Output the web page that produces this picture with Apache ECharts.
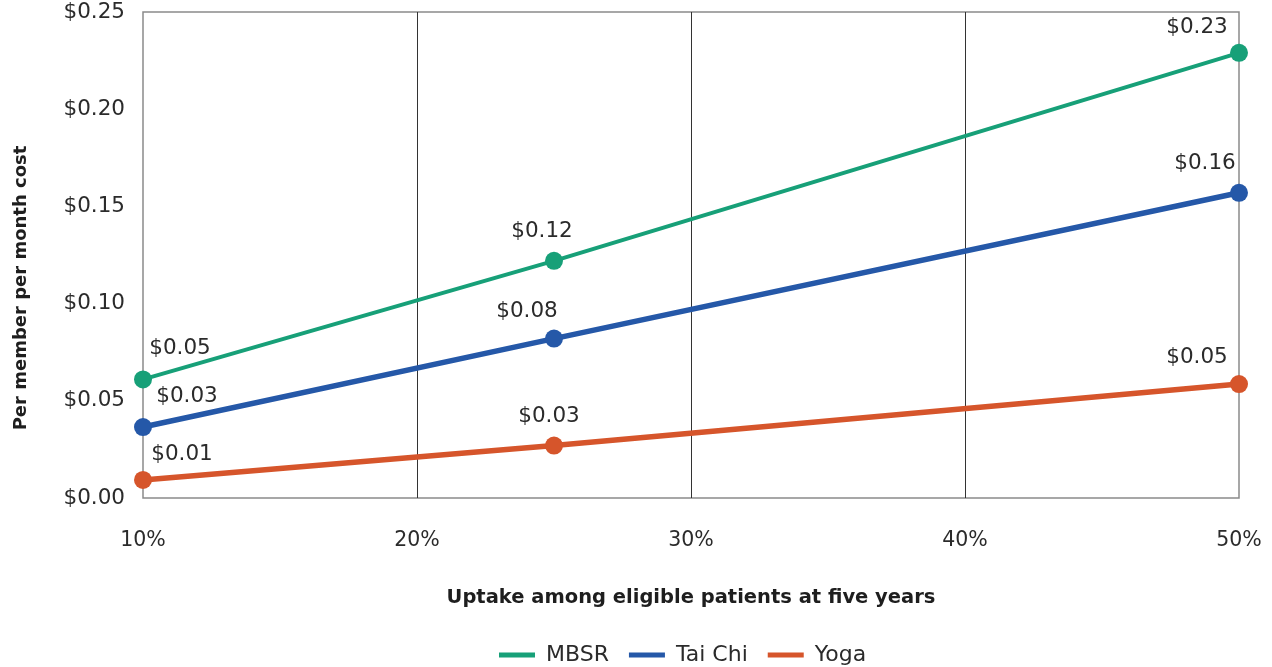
<!DOCTYPE html>
<html>
<head>
<meta charset="utf-8">
<script src="https://cdn.jsdelivr.net/npm/echarts@6/dist/echarts.min.js"></script>
<style>
html, body { margin: 0; padding: 0; background: #fff; }
#chart { width: 1272px; height: 667px; }
</style>
</head>
<body>
<div id="chart"></div>
<script>
var uptake = [10, 25, 50];
var xTicks = [10, 20, 30, 40, 50];
var yTicks = [0, 0.05, 0.10, 0.15, 0.20, 0.25];

var mbsr = [0.061, 0.122, 0.229];
var taiChi = [0.0365, 0.082, 0.157];
var yoga = [0.0093, 0.027, 0.0586];

// labels as printed on the chart
var mbsrLabels = ['$0.05', '$0.12', '$0.23'];
var taiChiLabels = ['$0.03', '$0.08', '$0.16'];
var yogaLabels = ['$0.01', '$0.03', '$0.05'];

var font = 'DejaVu Sans';
var txt = '#2b2b2b';

function makeSeries(name, color, width, vals, labels, offsets) {
	return {
		type: 'line',
		name: name,
		symbol: 'circle',
		symbolSize: 18,
		lineStyle: { color: color, width: width },
		itemStyle: { color: color },
		data: vals.map(function(v, i) {
			return {
				value: [uptake[i], v],
				label: {
					show: true,
					position: 'top',
					offset: offsets[i],
					formatter: labels[i],
					fontFamily: font,
					fontSize: 21.5,
					color: txt
				}
			};
		}),
		z: 3
	};
}

echarts.init(document.getElementById('chart')).setOption({
	animation: false,
	grid: {
		left: 143, right: 33, top: 12, bottom: 169,
		outerBoundsMode: 'none',
		show: true, borderColor: '#8a8a8a', borderWidth: 1.5
	},
	legend: {
		top: 639,
		left: 494,
		itemWidth: 36,
		itemHeight: 5,
		itemGap: 20,
		icon: 'rect',
		textStyle: { fontFamily: font, fontSize: 22, color: txt, padding: [0, 0, 0, 6] },
		data: ['MBSR', 'Tai Chi', 'Yoga']
	},
	xAxis: {
		type: 'value',
		min: xTicks[0], max: xTicks[xTicks.length - 1], interval: 10,
		name: 'Uptake among eligible patients at five years',
		nameLocation: 'middle',
		nameGap: 90,
		nameTextStyle: { fontFamily: font, fontSize: 19.5, fontWeight: 'bold', color: '#1e1e1e' },
		axisLine: { show: false },
		axisTick: { show: false },
		axisLabel: {
			margin: 32, fontFamily: font, fontSize: 20.5, color: txt,
			formatter: function(v) { return v + '%'; }
		},
		splitLine: { show: true, showMinLine: false, showMaxLine: false, lineStyle: { color: '#333', width: 1 } }
	},
	yAxis: {
		type: 'value',
		min: yTicks[0], max: yTicks[yTicks.length - 1], interval: 0.05,
		name: 'Per member per month cost',
		nameLocation: 'middle',
		nameGap: 113,
		nameTextStyle: { fontFamily: font, fontSize: 18, fontWeight: 'bold', color: '#1e1e1e', padding: [0, 66, 0, 0] },
		axisLine: { show: false },
		axisTick: { show: false },
		splitLine: { show: false },
		axisLabel: {
			margin: 18, fontFamily: font, fontSize: 21.5, color: txt,
			formatter: function(v) { return '$' + v.toFixed(2); }
		}
	},
	series: [
		makeSeries('MBSR', '#17a078', 4, mbsr, mbsrLabels, [[37, -6], [-12, -4], [-42, 0]]),
		makeSeries('Tai Chi', '#2558a8', 5.5, taiChi, taiChiLabels, [[44, -6], [-27, -2], [-34, -4]]),
		makeSeries('Yoga', '#d6552b', 5.5, yoga, yogaLabels, [[39, 0], [-5, -4], [-42, -2]])
	]
});
</script>
</body>
</html>
